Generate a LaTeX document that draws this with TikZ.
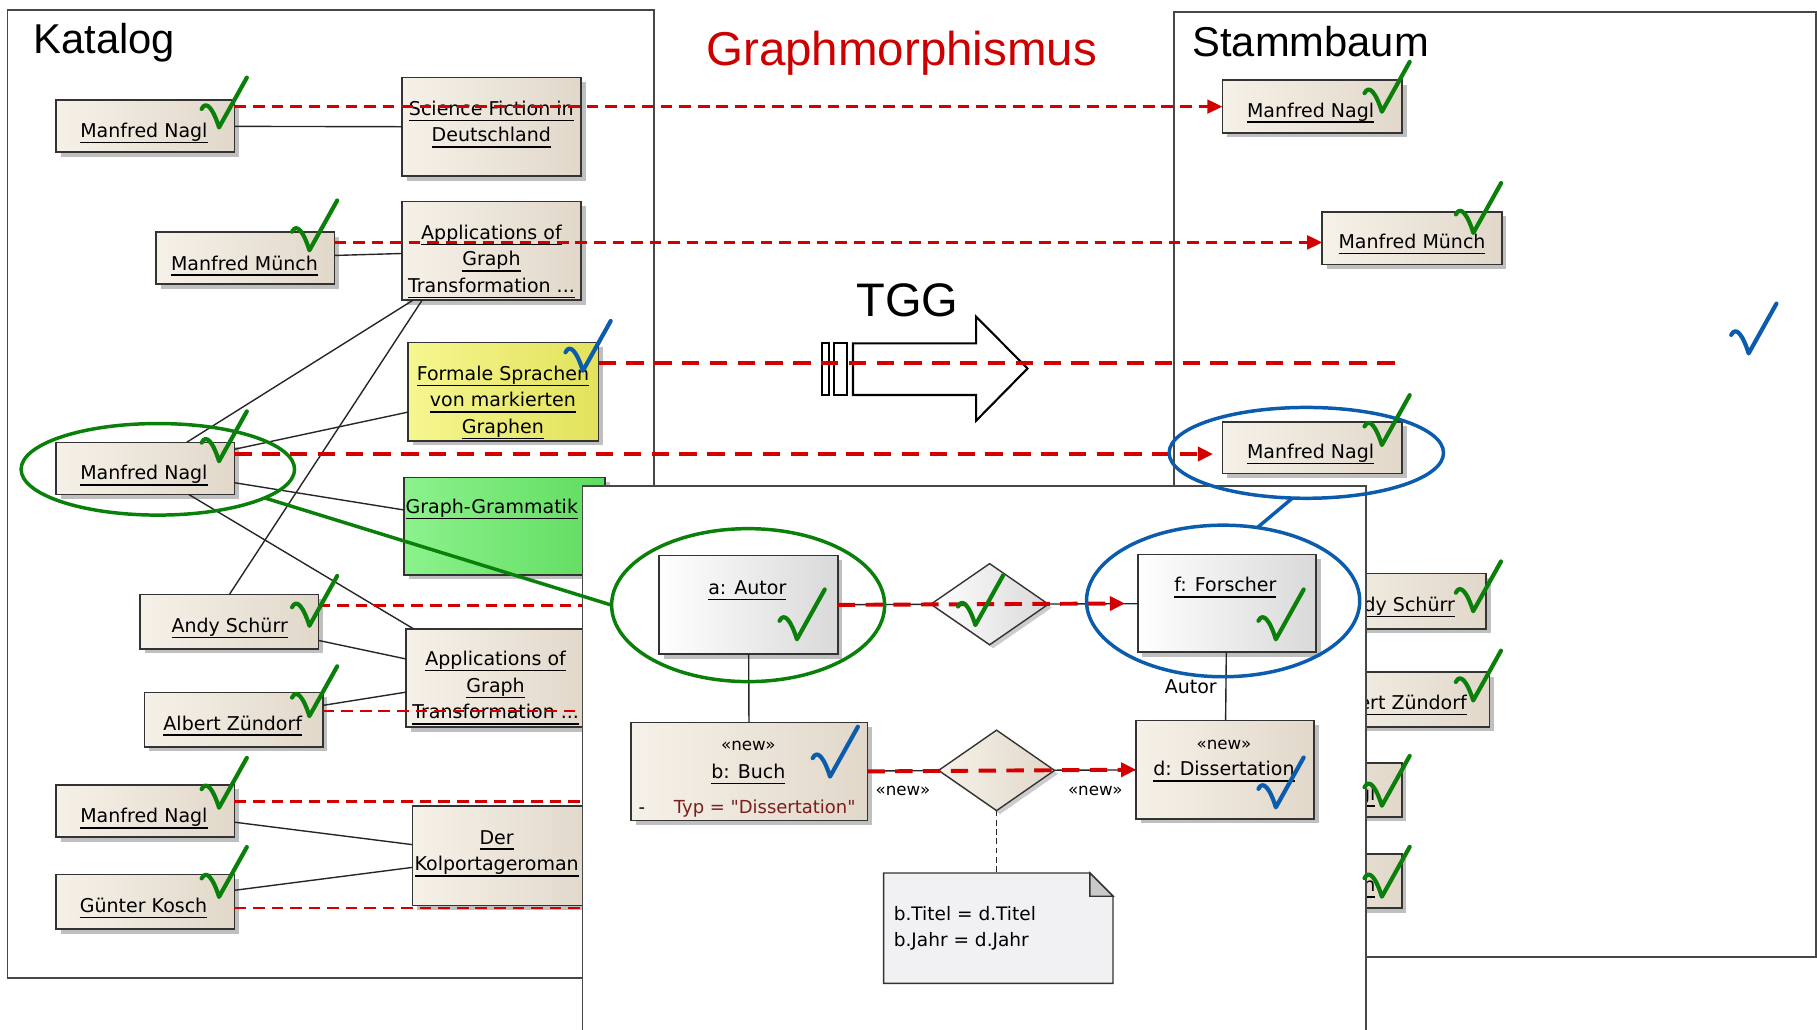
\documentclass[tikz,border=0pt]{standalone}
\usepackage{fontspec}
\setmainfont{Liberation Sans}
\newfontfamily\boxfont{DejaVu Sans}
\usetikzlibrary{shapes.geometric,shadows,arrows.meta,calc}
\definecolor{lred}{HTML}{D40000}
\definecolor{tred}{HTML}{CC0000}
\definecolor{cgreen}{HTML}{0A800A}
\definecolor{cblue}{HTML}{0B5CAD}
\definecolor{beigeL}{HTML}{F6F1E8}
\definecolor{beigeR}{HTML}{E1D8CA}
\definecolor{yelL}{HTML}{F6F690}
\definecolor{yelR}{HTML}{E2E25C}
\definecolor{grnL}{HTML}{8CF28C}
\definecolor{grnR}{HTML}{60DC60}
\definecolor{grayR}{HTML}{D9D9D9}
\definecolor{attrc}{HTML}{7A1E1E}
\definecolor{notefill}{HTML}{F1F1F3}
\definecolor{foldfill}{HTML}{C9C9C9}
\newcommand\uln[1]{\leavevmode\setbox0\hbox{#1}\rlap{\rule[-2.5pt]{\wd0}{0.6pt}}\box0}
\newcommand\mlines[1]{\begin{tabular}[t]{@{}c@{}}#1\end{tabular}}
\tikzset{
 frm/.style={draw=black!72, line width=0.8pt, fill=white},
 ent/.style={draw=black!80, line width=0.7pt, inner sep=0pt, outer sep=0pt, left color=beigeL, right color=beigeR,
   drop shadow={shadow xshift=2pt, shadow yshift=-2pt, fill=black, opacity=0.25}, minimum width=77pt, minimum height=22.5pt},
 yel/.style={left color=yelL, right color=yelR},
 grn/.style={left color=grnL, right color=grnR},
 obj/.style={ent, left color=white, right color=grayR},
 txt/.style={inner sep=0pt, outer sep=0pt, font=\boxfont\fontsize{8.2}{11.5}\selectfont, anchor=base},
 smalltxt/.style={inner sep=0pt, outer sep=0pt, font=\boxfont\fontsize{7.2}{9}\selectfont, anchor=base},
 conn/.style={draw=black!85, line width=0.6pt},
 rdash/.style={draw=lred, line width=1.1pt, dash pattern=on 5pt off 3pt},
 rthick/.style={draw=lred, line width=1.7pt, dash pattern=on 7.5pt off 4.5pt},
 rtip/.style={-{Triangle[length=6.5pt,width=6pt]}},
 ell/.style={ellipse, draw, line width=1.5pt, inner sep=0pt, outer sep=0pt},
 dia/.style={diamond, draw=black!80, line width=0.6pt, inner sep=0pt, outer sep=0pt,
   drop shadow={shadow xshift=1.5pt, shadow yshift=-1.5pt, fill=black, opacity=0.2}},
 big/.style={inner sep=0pt, outer sep=0pt, anchor=base west, font=\fontsize{18}{21}\selectfont},
 chk/.pic={\draw[line width=1.8pt, line cap=round, line join=round] (-15,-16) .. controls (-11,-24) and (-5,-16) .. (0,0) -- (24,-43);}
}
\begin{document}
\begin{tikzpicture}[x=0.5pt,y=-0.5pt]
\useasboundingbox (0,0) rectangle (1568,888);
\fill[white] (0,0) rectangle (1568,888);
% frames
\draw[frm] (6.5,8.6) rectangle (564.1,843.9);
\draw[frm] (1013.3,10.1) rectangle (1566.9,825.8);
% titles
\node[big] (tK) at (29,46) {Katalog};
\node[big] (tS) at (1029,48.9) {Stammbaum};
\node[big, text=tred, font=\fontsize{20.5}{24}\selectfont] (tG) at (609.5,56.1) {Graphmorphismus};
\node[big, font=\fontsize{20.3}{24}\selectfont] (tT) at (739.2,273.3) {TGG};
% TGG arrow
\draw[line width=0.9pt] (736.1,296.3) -- (842.4,296.3) -- (842.4,273.3) -- (886.7,318) -- (842.4,363) -- (842.4,340.9) -- (736.1,340.9) -- cycle;
\draw[line width=0.9pt] (709.2,296.3) rectangle (715.6,340.9);
\draw[line width=0.9pt] (719.4,296.3) rectangle (731.3,340.9);

% Katalog authors
\node[ent] (A1) at (125.3,108.9) {};
\node[ent] (A2) at (211.6,222.7) {};
\node[ent] (A3) at (125.3,404.2) {};
\node[ent, minimum height=23.5pt] (A4) at (198,536.4) {};
\node[ent, minimum height=23.5pt] (A5) at (201.6,621) {};
\node[ent] (A6) at (125.3,699.8) {};
\node[ent, minimum height=23.5pt] (A7) at (125.3,778.2) {};
\node[txt] (A1t) at (124.2,118.8) {\uln{Manfred Nagl}};
\node[txt] (A2t) at (211,233) {\uln{Manfred Münch}};
\node[txt] (A3t) at (124.2,414) {\uln{Manfred Nagl}};
\node[txt] (A4t) at (198.2,545.6) {\uln{Andy Schürr}};
\node[txt] (A5t) at (200.9,630) {\uln{Albert Zündorf}};
\node[txt] (A6t) at (124.2,710) {\uln{Manfred Nagl}};
\node[txt] (A7t) at (123.9,787.3) {\uln{Günter Kosch}};
% Katalog books
\node[ent, minimum width=77.2pt, minimum height=42.5pt] (B1) at (424.1,109.5) {};
\node[ent, minimum width=77.2pt, minimum height=42.5pt] (B2) at (424.1,216.5) {};
\node[ent, yel, minimum width=82.1pt, minimum height=42.3pt] (B3) at (434.4,338) {};
\node[ent, grn, minimum width=86.6pt, minimum height=42pt] (B4) at (435.4,454) {};
\node[ent, minimum width=77pt, minimum height=42.3pt] (B5) at (427.5,585) {};
\node[ent, minimum width=77pt, minimum height=42.8pt] (B6) at (432.9,738.6) {};
\node[txt] (B1t) at (424,99.5) {\mlines{\uln{Science Fiction in}\\\uln{Deutschland}}};
\node[txt] (B2t) at (424.1,206.5) {\mlines{\uln{Applications of}\\\uln{Graph}\\\uln{Transformation ...}}};
\node[txt] (B3t) at (434,328.2) {\mlines{\uln{Formale Sprachen}\\\uln{von markierten}\\\uln{Graphen}}};
\node[txt, anchor=base west] (B4t) at (350,443) {\uln{Graph-Grammatik}};
\node[txt] (B5t) at (427.7,574.3) {\mlines{\uln{Applications of}\\\uln{Graph}\\\uln{Transformation ...}}};
\node[txt] (B6t) at (428.6,728.4) {\mlines{\uln{Der}\\\uln{Kolportageroman}}};
% Katalog links
\draw[conn] (A1) -- (B1);
\draw[conn] (A2) -- (B2);
\draw[conn] (A3) -- (B2);
\draw[conn] (A4.north) -- ($(B2.south west)+(17.4,0)$);
\draw[conn] (A3) -- (B3);
\draw[conn] (A3) -- (B4);
\draw[conn] (A3) -- (B5);
\draw[conn] (A4) -- (B5);
\draw[conn] (A5) -- (B5);
\draw[conn] (A6) -- (B6);
\draw[conn] (A7) -- (B6);

% Stammbaum
\node[ent, minimum width=77.5pt, minimum height=22.8pt] (S1) at (1132.3,91.8) {};
\node[ent, minimum width=77.5pt, minimum height=22.7pt] (S2) at (1218.5,205.4) {};
\node[ent, minimum width=77.5pt, minimum height=22.3pt] (S3) at (1132.3,386.3) {};
\node[ent, minimum height=23.8pt] (S4) at (1205.4,518.8) {};
\node[ent, minimum height=23.7pt] (S5) at (1208.2,603.5) {};
\node[ent, minimum height=23.3pt] (S6) at (1132.7,681.6) {};
\node[ent, minimum height=23.3pt] (S7) at (1132.7,760.3) {};
\node[txt] (S1t) at (1131,101) {\uln{Manfred Nagl}};
\node[txt] (S2t) at (1218.5,214.6) {\uln{Manfred Münch}};
\node[txt] (S3t) at (1131,395.8) {\uln{Manfred Nagl}};
\node[txt] (S4t) at (1205.3,527.5) {\uln{Andy Schürr}};
\node[txt] (S5t) at (1206,612) {\uln{Albert Zündorf}};
\node[txt] (S6t) at (1132,691) {\uln{Manfred Nagl}};
\node[txt] (S7t) at (1132,769.5) {\uln{Günter Kosch}};

% morphism lines
\coordinate (X) at (1209,313.6);
\draw[rdash, rtip] (A1.east |- 0,92) -- (S1.west |- 0,92);
\draw[rdash, rtip] (A2.east |- 0,209.2) -- (S2.west |- 0,209.2);
\draw[rthick] (B3.east |- X) -- (X);
\draw[rthick, rtip, shorten >=4pt] (A3.east |- 0,391.8) -- (S3.west |- 0,391.8);
\draw[rdash, rtip] (A4.east |- 0,522.4) -- (S4.west |- 0,522.4);
\draw[rdash, rtip] (A5.east |- 0,613.6) -- (S5.west |- 0,613.6);
\draw[rdash, rtip] (A6.east |- 0,691.6) -- (S6.west |- 0,691.6);
\draw[rdash, rtip] (A7.east |- 0,783.5) -- (S7.west |- 0,783.5);

% rule frame
\draw[frm] (502.7,419.4) rectangle (1178.5,900);
\node[obj, minimum width=77pt, minimum height=42.6pt] (Au) at (645.9,522) {};
\node[obj, minimum width=76.9pt, minimum height=42.2pt] (Fo) at (1058.7,520.7) {};
\node[ent, minimum width=102pt, minimum height=42.3pt] (Bu) at (646.5,665.7) {};
\node[ent, minimum width=76.7pt, minimum height=42.3pt] (Di) at (1057.2,664.2) {};
\node[dia, left color=white, right color=grayR, minimum width=50.7pt, minimum height=35pt] (D1) at (854,521.4) {};
\node[dia, left color=beigeL, right color=beigeR, minimum width=50pt, minimum height=34.7pt] (D2) at (860,664.8) {};
\node[inner sep=0pt, outer sep=0pt, minimum width=99pt, minimum height=47.6pt] (N) at (861.5,801) {};
\filldraw[fill=notefill, draw=black!80, line width=0.6pt] (N.south west) -- (N.north west) -- ([xshift=-10pt]N.north east) -- ([yshift=-10pt]N.north east) -- (N.south east) -- cycle;
\filldraw[fill=foldfill, draw=black!80, line width=0.6pt] ([xshift=-10pt]N.north east) -- ([xshift=-10pt,yshift=-10pt]N.north east) -- ([yshift=-10pt]N.north east) -- cycle;
\node[txt] (Aut) at (644.9,513) {\uln{a: Autor}};
\node[txt] (Fot) at (1057.5,510.7) {\uln{f: Forscher}};
\node[smalltxt] (Bun) at (645.8,648) {«new»};
\node[txt] (But) at (645.8,671.5) {\uln{b: Buch}};
\node[txt, anchor=base west, font=\boxfont\fontsize{7.75}{9}\selectfont] (Bua) at (551,702.3) {-\hspace{12.5pt}\textcolor{attrc}{Typ = "Dissertation"}};
\node[smalltxt] (Din) at (1056.2,647) {«new»};
\node[txt] (Dit) at (1056.2,669.4) {\uln{d: Dissertation}};
\node[txt, anchor=base west, font=\boxfont\fontsize{8}{11.3}\selectfont] (Nt) at (771.3,794) {\begin{tabular}[t]{@{}l@{}}b.Titel = d.Titel\\b.Jahr = d.Jahr\end{tabular}};
\draw[conn] (Au) -- (Bu);
\draw[conn] (Fo) -- node[txt, anchor=base east, pos=0.5, xshift=-4pt, yshift=-3pt] (lAutor) {Autor} (Di);
\draw[conn] (Au) -- (D1);
\draw[conn] (D1) -- (Fo);
\draw[conn] (Bu) -- (D2);
\draw[conn] (D2) -- (Di);
\draw[conn, dash pattern=on 2.5pt off 1.5pt] (D2) -- (N.north -| D2);
\node[smalltxt] (n1) at (779.2,686.5) {«new»};
\node[smalltxt] (n2) at (945.2,686.5) {«new»};
\draw[rthick, rtip, shorten >=5.5pt] (Au.east) -- (Fo.west);
\draw[rthick, rtip] (Bu.east) -- (Di.west);

% ellipses
\node[ell, draw=cgreen, minimum width=118pt, minimum height=39.5pt] (E1) at (136.2,405) {};
\node[ell, draw=cgreen, minimum width=117.8pt, minimum height=66pt] (E2) at (645.6,522.2) {};
\node[ell, draw=cblue, minimum width=118.4pt, minimum height=39.2pt] (E3) at (1127.3,390.8) {};
\node[ell, draw=cblue, minimum width=117.9pt, minimum height=65.4pt] (E4) at (1055.5,518.6) {};
\draw[cgreen, line width=1.5pt] (E1.-15) -- (E2.west);
\draw[cblue, line width=1.5pt] (E3.-107) -- (E4.65);

% checks
\foreach \x/\y in {189/110, 267/216, 189/398, 267/540, 267/618, 189/697, 189/774,
  1192.5/96.4, 1271.4/201, 1192.5/384, 1271.3/527.5, 1271.3/604.5, 1192.5/695.3, 1192.5/773.8,
  687.7/551.7, 841.7/539.4, 1101/551.7}
  \pic[color=cgreen] at (\x,\y) {chk};
\foreach \x/\y in {503/320, 1509/305, 716.3/670.2, 1101/696.7}
  \pic[color=cblue] at (\x,\y) {chk};
\end{tikzpicture}
\end{document}
